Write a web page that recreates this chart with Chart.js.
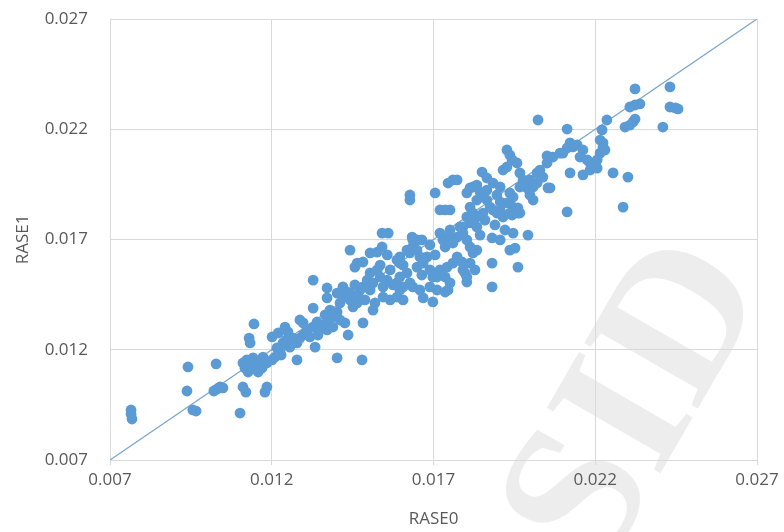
<!DOCTYPE html>
<html>
<head>
<meta charset="utf-8">
<style>
    body {
        margin: 0;
        background: #ffffff;
    }
    #wrap {
        width: 784px;
        height: 532px;
    }
</style>
<script src="https://cdn.jsdelivr.net/npm/chart.js"></script>
</head>
<body>
<div id="wrap"><canvas id="myChart" width="784" height="532"></canvas></div>
<script>
    // RASE0 (x) and RASE1 (y), lower-left to upper-right
    var rase0 = [
        0.00765,0.00765,0.00768,0.00941,0.00938,0.00956,0.00966,0.01028,0.01021,0.01031,0.01040,0.01049,0.01102,
        0.01111,0.01120,0.01185,0.01179,0.01145,0.01130,0.01133,0.01111,0.01123,0.01139,0.01154,0.01170,0.01185,0.01201,0.01210,0.01127,0.01158,0.01117,0.01142,0.01173,0.01201,0.01220,0.01241,0.01250,0.01278,0.01226,0.01235,0.01256,0.01278,0.01287,0.01297,0.01244,0.01266,0.01216,0.01229,
        0.01309,0.01328,0.01340,0.01349,0.01318,0.01334,0.01287,0.01297,0.01358,0.01371,0.01386,0.01402,0.01411,0.01420,0.01433,0.01442,0.01451,0.01464,0.01389,0.01411,0.01426,0.01436,0.01371,0.01343,0.01380,0.01365,0.01328,0.01328,0.01371,0.01371,0.01402,0.01479,0.01482,0.01442,0.01464,0.01482,0.01504,0.01526,0.01541,0.01541,0.01560,0.01457,0.01420,0.01402,0.01442,0.01473,0.01495,0.01513,0.01504,0.01526,0.01535,0.01482,0.01495,0.01504,0.01513,0.01519,0.01457,0.01467,0.01488,
        0.01544,0.01557,0.01566,0.01587,0.01544,0.01587,0.01596,0.01618,0.01627,0.01636,0.01636,0.01649,0.01596,0.01606,0.01596,0.01606,0.01596,0.01587,0.01606,0.01627,0.01636,0.01649,0.01658,0.01618,0.01634,0.01649,0.01627,0.01627,0.01689,0.01711,0.01736,0.01745,0.01668,0.01680,0.01689,0.01698,0.01698,0.01668,0.01720,0.01729,0.01736,0.01745,0.01751,0.01760,0.01773,0.01782,0.01791,0.01803,0.01813,0.01773,0.01788,0.01760,0.01742,0.01720,0.01711,0.01736,0.01751,0.01791,0.01803,0.01705,0.01720,0.01736,0.01751,0.01745,0.01760,0.01773,0.01797,0.01828,0.01803,0.01664,0.01689,0.01705,0.01664,0.01658,0.01566,0.01575,0.01535,0.01557,
        0.01822,0.01834,0.01813,0.01881,0.01881,0.01881,0.01946,0.01992,0.01936,0.01952,0.01961,0.01803,0.01813,0.01822,0.01834,0.01844,0.01853,0.01865,0.01875,0.01884,0.01896,0.01813,0.01822,0.01803,0.01813,0.01791,0.01834,0.01850,0.01865,0.01884,0.01906,0.01915,0.01927,0.01936,0.01943,0.01958,0.01967,0.01977,0.01989,0.01998,0.02008,0.02020,0.02038,0.02051,0.02054,0.01936,0.01946,0.01961,0.01943,0.01906,0.01896,0.02023,0.02113,0.01927,0.01834,0.01865,0.01906,0.01927,0.01946,0.01967,0.01998,0.02008,0.01967,0.01915,0.01853,0.01834,0.02020,0.02029,0.02060,0.01961,0.01936,0.01859,0.01890,0.01844,0.01921,0.01906,
        0.02069,0.02091,0.02113,0.02122,0.02131,0.02144,0.02162,0.02153,0.02175,0.02184,0.02193,0.02206,0.02215,0.02224,0.02230,0.02215,0.02221,0.02236,0.02122,0.02162,0.02184,0.02206,0.02100,0.02255,0.02301,0.02286,0.02113,0.02323,0.02307,0.02323,0.02338,0.02292,0.02307,0.02317,0.02323,0.02431,0.02431,0.02447,0.02456,0.02409,0.02224,0.02051
    ];
    var rase1 = [
        0.00927,0.00909,0.00886,0.01122,0.01013,0.00927,0.00922,0.01136,0.01013,0.01022,0.01031,0.01027,0.00913,
        0.01031,0.01008,0.01031,0.01008,0.01317,0.01253,0.01231,0.01140,0.01154,0.01122,0.01145,0.01117,0.01140,0.01154,0.01167,0.01099,0.01099,0.01117,0.01163,0.01167,0.01258,0.01276,0.01303,0.01281,0.01154,0.01199,0.01231,0.01212,0.01231,0.01253,0.01267,0.01244,0.01253,0.01208,0.01176,
        0.01290,0.01303,0.01326,0.01299,0.01258,0.01212,0.01335,0.01322,0.01312,0.01326,0.01348,0.01371,0.01412,0.01439,0.01462,0.01426,0.01394,0.01412,0.01303,0.01335,0.01322,0.01267,0.01290,0.01267,0.01380,0.01358,0.01389,0.01516,0.01480,0.01435,0.01163,0.01154,0.01322,0.01652,0.01593,0.01598,0.01639,0.01643,0.01666,0.01729,0.01729,0.01575,0.01485,0.01457,0.01457,0.01471,0.01485,0.01503,0.01548,0.01562,0.01530,0.01485,0.01516,0.01471,0.01380,0.01412,0.01494,0.01448,0.01426,
        0.01485,0.01516,0.01426,0.01439,0.01439,0.01607,0.01593,0.01548,0.01639,0.01698,0.01485,0.01575,0.01471,0.01426,0.01621,0.01584,0.01530,0.01503,0.01485,0.01503,0.01666,0.01652,0.01621,0.01652,0.01711,0.01698,0.01902,0.01879,0.01485,0.01471,0.01462,0.01471,0.01593,0.01621,0.01562,0.01530,0.01417,0.01435,0.01729,0.01698,0.01666,0.01711,0.01743,0.01684,0.01711,0.01757,0.01729,0.01698,0.01666,0.01621,0.01598,0.01593,0.01575,0.01562,0.01530,0.01530,0.01503,0.01562,0.01530,0.01911,0.01834,0.01834,0.01834,0.01956,0.01970,0.01970,0.01548,0.01562,0.01507,0.01698,0.01675,0.01630,0.01539,0.01471,0.01562,0.01494,0.01584,0.01630,
        0.01639,0.01652,0.01593,0.01707,0.01593,0.01485,0.01729,0.01720,0.01652,0.01661,0.01575,0.01911,0.01934,0.01938,0.01947,0.01915,0.01893,0.01879,0.01847,0.01834,0.01820,0.01847,0.01820,0.01802,0.01775,0.01757,0.01757,0.02006,0.01979,0.01956,0.01938,0.02015,0.02106,0.02083,0.02061,0.02047,0.02002,0.01970,0.01934,0.01902,0.01879,0.01956,0.01983,0.02047,0.01934,0.01911,0.01847,0.01820,0.01811,0.01870,0.01902,0.02242,0.02201,0.02029,0.01879,0.01924,0.01834,0.01866,0.01893,0.01938,0.01970,0.01938,0.01820,0.01802,0.01820,0.01802,0.02002,0.02015,0.01934,0.01843,0.01820,0.01788,0.01766,0.01720,0.01743,0.01698,
        0.02074,0.02092,0.02115,0.02138,0.02120,0.02129,0.02106,0.02074,0.02061,0.02047,0.02029,0.02061,0.02092,0.02120,0.02106,0.02151,0.02197,0.02242,0.02002,0.01993,0.02015,0.02024,0.02092,0.02002,0.01983,0.01847,0.01825,0.02383,0.02301,0.02310,0.02315,0.02210,0.02219,0.02233,0.02246,0.02392,0.02301,0.02297,0.02292,0.02210,0.02138,0.02079
    ];
    var tickValues = [0.007, 0.012, 0.017, 0.022, 0.027];
    var xTitle = 'RASE0';
    var yTitle = 'RASE1';

    var points = rase0.map(function(x, i) { return {x: x, y: rase1[i]}; });
    var axisMin = tickValues[0];
    var axisMax = tickValues[tickValues.length - 1];
    var diagonal = [{x: axisMin, y: axisMin}, {x: axisMax, y: axisMax}];

    var gridColor = '#d9d9d9';
    var textColor = '#595959';
    var font = {family: '"Open Sans", sans-serif', size: 17};

    // light "SID" watermark behind the grid
    var watermark = {
        id: 'watermark',
        beforeDraw: function(chart) {
            var ctx = chart.ctx;
            ctx.save();
            ctx.fillStyle = '#ffffff';
            ctx.fillRect(0, 0, chart.width, chart.height);
            ctx.translate(640, 405);
            ctx.rotate(-60 * Math.PI / 180);
            ctx.font = 'bold 200px "Liberation Serif"';
            ctx.fillStyle = '#ededed';
            ctx.textAlign = 'center';
            ctx.textBaseline = 'middle';
            ctx.fillText('SID', 0, 0);
            ctx.restore();
        }
    };

    function setTicks(scale) {
        scale.ticks = tickValues.map(function(v) { return {value: v}; });
    }

    var ctx = document.getElementById('myChart').getContext('2d');
    var myChart = new Chart(ctx, {
        type: 'scatter',
        data: {
            datasets: [{
                label: 'RASE1',
                data: points,
                backgroundColor: '#5b9bd5',
                borderWidth: 0,
                pointRadius: 5.4,
                order: 1
            }, {
                type: 'line',
                label: 'y = x',
                data: diagonal,
                borderColor: '#7ea7cc',
                borderWidth: 1.3,
                pointRadius: 0,
                fill: false,
                order: 2
            }]
        },
        options: {
            responsive: false,
            animation: false,
            layout: {padding: {top: 19, right: 27, bottom: 0, left: 0}},
            plugins: {
                legend: {display: false},
                tooltip: {enabled: false}
            },
            scales: {
                x: {
                    type: 'linear',
                    min: axisMin,
                    max: axisMax,
                    afterBuildTicks: setTicks,
                    afterFit: function(scale) { scale.height = 72; },
                    grid: {color: gridColor, tickColor: gridColor, tickLength: 5},
                    border: {color: gridColor},
                    ticks: {
                        color: textColor,
                        font: font,
                        padding: 5,
                        maxRotation: 0,
                        callback: function(v) { return v.toFixed(3); }
                    },
                    title: {display: true, text: xTitle, color: textColor, font: font, padding: {top: 0, bottom: 3}}
                },
                y: {
                    type: 'linear',
                    min: axisMin,
                    max: axisMax,
                    afterBuildTicks: setTicks,
                    afterFit: function(scale) { scale.width = 110; },
                    grid: {color: gridColor, tickColor: 'rgba(0,0,0,0)', tickLength: 20},
                    border: {color: gridColor},
                    ticks: {
                        color: textColor,
                        font: font,
                        padding: 2,
                        callback: function(v) { return v.toFixed(3); }
                    },
                    title: {display: true, text: yTitle, color: textColor, font: font, padding: {top: 13, bottom: 0}}
                }
            }
        },
        plugins: [watermark]
    });
</script>
</body>
</html>
